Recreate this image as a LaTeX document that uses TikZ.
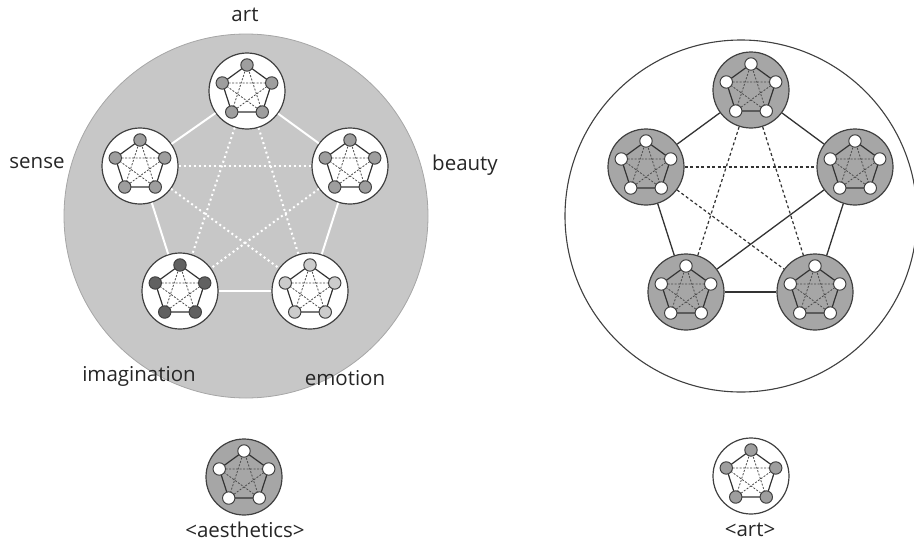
\documentclass[tikz,border=0pt]{standalone}
\usepackage{fontspec}
\setmainfont{Open Sans}
\begin{document}
\begin{tikzpicture}[x=1pt,y=1pt,
  lbl/.style={font=\fontsize{20.5}{24}\selectfont, text=black!85},
  nd/.style={circle, minimum size=76pt, inner sep=0pt, draw=black!75, line width=1.2pt},
  iconedge/.style={draw=black!80, line width=1.2pt},
  icondash/.style={draw=black!70, line width=0.8pt, dash pattern=on 2pt off 1.5pt},
  ledge/.style={draw=white, line width=2pt},
  ldot/.style={draw=white, line width=2pt, dash pattern=on 2pt off 3pt},
  redge/.style={draw=black!80, line width=1.3pt},
  rdash/.style={draw=black!80, line width=1.2pt, dash pattern=on 3pt off 2.5pt}]
\useasboundingbox (0,0) rectangle (914,-549);
\newcommand\drawicon[2]{% #1 center node, #2 dot fill
  \begin{scope}[shift={(#1.center)}]
    \foreach \i in {0,...,4} \coordinate (#1p\i) at ({90+72*\i}:26);
    \draw[iconedge] (#1p0)--(#1p1)--(#1p2)--(#1p3)--(#1p4)--cycle;
    \draw[icondash] (#1p0)--(#1p2)--(#1p4)--(#1p1)--(#1p3)--cycle;
    \foreach \i in {0,...,4} \filldraw[fill=#2, draw=black!75, line width=1pt] (#1p\i) circle (6.2);
  \end{scope}}
% ---------- left diagram ----------
\node[circle, minimum size=364pt, inner sep=0pt, fill=black!22, draw=black!35, line width=0.8pt] (bigL) at (246,-216) {};
\node[nd, fill=white] (art) at (247,-91) {};
\node[nd, fill=white] (sense) at (140,-166) {};
\node[nd, fill=white] (beauty) at (350,-166) {};
\node[nd, fill=white] (imag) at (180,-291) {};
\node[nd, fill=white] (emo) at (310,-291) {};
\draw[ledge] (art) -- (beauty);
\draw[ledge] (beauty) -- (emo);
\draw[ledge] (emo) -- (imag);
\draw[ledge] (imag) -- (sense);
\draw[ledge] (sense) -- (art);
\draw[ldot] (art) -- (imag);
\draw[ldot] (art) -- (emo);
\draw[ldot] (sense) -- (beauty);
\draw[ldot] (sense) -- (emo);
\draw[ldot] (beauty) -- (imag);
\drawicon{art}{black!38}
\drawicon{sense}{black!38}
\drawicon{beauty}{black!38}
\drawicon{imag}{black!62}
\drawicon{emo}{black!20}
\node[lbl] (tart) at (245,-15) {art};
\node[lbl] (tsense) at (37,-163) {sense};
\node[lbl] (tbeauty) at (465,-165) {beauty};
\node[lbl] (timag) at (139,-376) {imagination};
\node[lbl] (temo) at (345,-378) {emotion};
% ---------- right diagram ----------
\node[circle, minimum size=352pt, inner sep=0pt, fill=white, draw=black!75, line width=1.1pt] (bigR) at (741,-216) {};
\node[nd, fill=black!35] (rtop) at (751,-90) {};
\node[nd, fill=black!35] (rleft) at (646,-167) {};
\node[nd, fill=black!35] (rright) at (855,-167) {};
\node[nd, fill=black!35] (rbl) at (686,-292) {};
\node[nd, fill=black!35] (rbr) at (815,-292) {};
\draw[redge] (rtop) -- (rright);
\draw[redge] (rright) -- (rbr);
\draw[redge] (rbr) -- (rbl);
\draw[redge] (rbl) -- (rleft);
\draw[redge] (rleft) -- (rtop);
\draw[redge] (rbl) -- (rright);
\draw[rdash] (rtop) -- (rbl);
\draw[rdash] (rtop) -- (rbr);
\draw[rdash] (rleft) -- (rright);
\draw[rdash] (rleft) -- (rbr);
\drawicon{rtop}{white}
\drawicon{rleft}{white}
\drawicon{rright}{white}
\drawicon{rbl}{white}
\drawicon{rbr}{white}
% ---------- bottom legend icons ----------
\node[nd, fill=black!35] (aes) at (244,-477) {};
\drawicon{aes}{white}
\node[lbl] (taes) at (245,-530) {<aesthetics>};
\node[nd, fill=white] (artic) at (751,-476) {};
\drawicon{artic}{black!38}
\node[lbl] (tartic) at (750,-530) {<art>};
\end{tikzpicture}
\end{document}
